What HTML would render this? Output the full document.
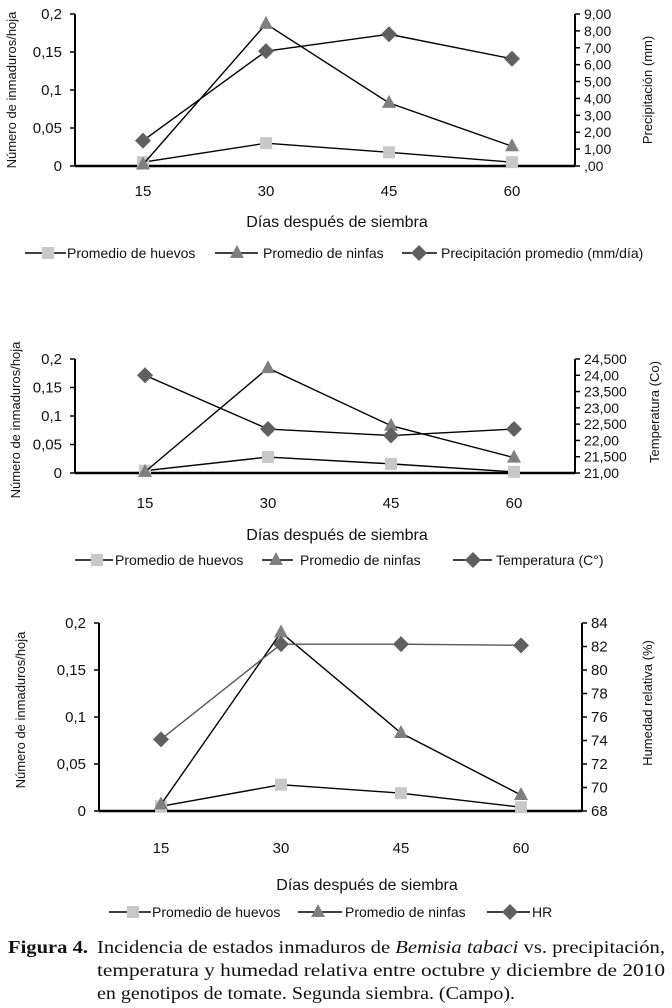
<!DOCTYPE html>
<html><head><meta charset="utf-8"><style>
html,body{margin:0;padding:0;background:#fff;}
svg{display:block;}
.t{font-family:"Liberation Sans Narrow","Liberation Sans",sans-serif;fill:#111;}
.c{font-family:"Liberation Serif",serif;fill:#111;font-size:18px;}
</style></head><body>
<svg id="fig" width="672" height="1008" viewBox="0 0 672 1008" xmlns="http://www.w3.org/2000/svg">
<text class="c" x="8" y="953" font-weight="bold" textLength="80" lengthAdjust="spacingAndGlyphs">Figura 4.</text>
<text class="c" x="97" y="953" textLength="568" lengthAdjust="spacingAndGlyphs">Incidencia de estados inmaduros de <tspan font-style="italic">Bemisia tabaci</tspan> vs. precipitación,</text>
<text class="c" x="97" y="976" textLength="568" lengthAdjust="spacingAndGlyphs">temperatura y humedad relativa entre octubre y diciembre de 2010</text>
<text class="c" x="97" y="999" textLength="418" lengthAdjust="spacingAndGlyphs">en genotipos de tomate. Segunda siembra. (Campo).</text>
</svg>
<script>
const categories = ["15","30","45","60"];
const leftTicks = ["0","0,05","0,1","0,15","0,2"];
const leftTickVals = [0,0.05,0.1,0.15,0.2];
// chart 1
const huevos1 = [0.005,0.030,0.018,0.005];
const ninfas1 = [0.002,0.187,0.083,0.026];
const precip1 = [1.5,6.8,7.8,6.35];
const rightTicks1 = [",00","1,00","2,00","3,00","4,00","5,00","6,00","7,00","8,00","9,00"];
const rightVals1 = [0,1,2,3,4,5,6,7,8,9];
// chart 2
const huevos2 = [0.004,0.028,0.016,0.002];
const ninfas2 = [0.002,0.184,0.083,0.027];
const temp2 = [24.0,22.35,22.15,22.35];
const rightTicks2 = ["21,00","21,500","22,00","22,500","23,00","23,500","24,00","24,500"];
const rightVals2 = [21,21.5,22,22.5,23,23.5,24,24.5];
// chart 3
const huevos3 = [0.005,0.028,0.019,0.004];
const ninfas3 = [0.007,0.190,0.083,0.017];
const hr3 = [74.1,82.2,82.2,82.1];
const rightTicks3 = ["68","70","72","74","76","78","80","82","84"];
const rightVals3 = [68,70,72,74,76,78,80,82,84];

const NS="http://www.w3.org/2000/svg";
const svg=document.getElementById('fig');
function mk(tag,attrs,parent){const e=document.createElementNS(NS,tag);for(const k in attrs)e.setAttribute(k,attrs[k]);(parent||svg).appendChild(e);return e;}
function txt(s,attrs,parent){const e=mk('text',attrs,parent);e.textContent=s;return e;}
function marker(kind,x,y,g){
  let e;
  if(kind==='sq') e=mk('rect',{x:x-6,y:y-6,width:12,height:12,fill:'#c8c8c8'},g);
  else if(kind==='tri') e=mk('polygon',{points:`${x},${y-8} ${x+7},${y+5} ${x-7},${y+5}`,fill:'#7f7f7f'},g);
  else e=mk('polygon',{points:`${x},${y-8} ${x+8},${y} ${x},${y+8} ${x-8},${y}`,fill:'#606060'},g);
  return e;
}
function chart(cfg){
  const g=mk('g',{});
  
  
  const yL=v=>cfg.y0+(cfg.y1-cfg.y0)*v/0.2;
  const yR=v=>cfg.y0+(cfg.y1-cfg.y0)*(v-cfg.rmin)/(cfg.rmax-cfg.rmin);
  const xs=i=>cfg.xs[0]+(cfg.xs[1]-cfg.xs[0])*i;
  const la=mk('line',{x1:cfg.lx,y1:cfg.y1,x2:cfg.lx,y2:cfg.y0,stroke:'#000','stroke-width':2},g);
  
  
  const ra=mk('line',{x1:cfg.rx,y1:cfg.y1,x2:cfg.rx,y2:cfg.y0,stroke:'#000','stroke-width':2},g);
  
  
  const xa=mk('line',{x1:cfg.lx,y1:cfg.y0,x2:cfg.rx,y2:cfg.y0,stroke:'#000','stroke-width':2.5},g);
  
  
  leftTickVals.forEach((v,i)=>{
    const y=yL(v);
    mk('line',{x1:cfg.lx-5,y1:y,x2:cfg.lx,y2:y,stroke:'#000','stroke-width':1.5},g);
    const t=txt(leftTicks[i],{class:'t',x:cfg.lx-13,y:y+5,'text-anchor':'end','font-size':15},g);
    
    
  });
  cfg.rvals.forEach((v,i)=>{
    const y=yR(v);
    mk('line',{x1:cfg.rx,y1:y,x2:cfg.rx+5,y2:y,stroke:'#000','stroke-width':1.5},g);
    const t=txt(cfg.rticks[i],{class:'t',x:cfg.rx+9,y:y+5,'font-size':cfg.rfs},g);
    
    
  });
  categories.forEach((c,i)=>{
    const t=txt(c,{class:'t',x:xs(i),y:cfg.xly,'text-anchor':'middle','font-size':15},g);
    
    
  });
  const xt=txt('Días después de siembra',{class:'t',x:cfg.xtx,y:cfg.xty,'text-anchor':'middle','font-size':16},g);
  
  
  const yt=txt('Número de inmaduros/hoja',{class:'t',transform:`translate(${cfg.ytx},${cfg.yty}) rotate(-90)`,'text-anchor':'middle','font-size':13},g);
  
  
  const yt2=txt(cfg.rtitle,{class:'t',transform:`translate(${cfg.rtx},${cfg.rty}) rotate(-90)`,'text-anchor':'middle','font-size':13},g);
  
  
  const series=[
    {d:cfg.h,f:yL,k:'sq',n:'series-huevos'},
    {d:cfg.n,f:yL,k:'tri',n:'series-ninfas'},
    {d:cfg.r,f:yR,k:'dia',n:'series-'+cfg.rname}
  ];
  series.forEach(s=>{
    const sg=mk('g',{},g);
    
    
    const pts=s.d.map((v,i)=>xs(i)+','+s.f(v)).join(' ');
    mk('polyline',{points:pts,fill:'none',stroke:(s.k==='dia'&&cfg.rgray)?'#555':'#000','stroke-width':1.4},sg);
    s.d.forEach((v,i)=>{
      const m=marker(s.k,xs(i),s.f(v),sg);
      
      
    });
  });
  const lg=mk('g',{},g);
  
  
  const kinds=['sq','tri','dia'];
  cfg.leg.forEach((L,i)=>{
    const eg=mk('g',{},lg);
    
    
    mk('line',{x1:L[0],y1:cfg.ly,x2:L[2],y2:cfg.ly,stroke:'#000','stroke-width':1.6},eg);
    marker(kinds[i],L[1],cfg.ly,eg);
    txt(L[4],{class:'t',x:L[3],y:cfg.ly+5,'font-size':14},eg);
  });
}
chart({name:'chart-precipitation',lx:75,rx:575,y0:166,y1:14,xs:[143,266],h:huevos1,n:ninfas1,r:precip1,rname:'precipitacion',
  rmin:0,rmax:9,rvals:rightVals1,rticks:rightTicks1,rfs:14,xly:196,xtx:337,xty:227,ytx:16,yty:90,rtitle:'Precipitación (mm)',rtx:652,rty:90,
  ly:253,leg:[[25,48,66,67,'Promedio de huevos'],[215,237,258,263,'Promedio de ninfas'],[402,419,437,441,'Precipitación promedio (mm/día)']]});
chart({name:'chart-temperature',lx:75,rx:575,y0:473,y1:359,xs:[145,268],h:huevos2,n:ninfas2,r:temp2,rname:'temperatura',
  rmin:21,rmax:24.5,rvals:rightVals2,rticks:rightTicks2,rfs:14,xly:508,xtx:337,xty:540,ytx:20,yty:420,rtitle:'Temperatura (Co)',rtx:659,rty:412,
  ly:560,leg:[[75,97,113,115,'Promedio de huevos'],[262,276,293,300,'Promedio de ninfas'],[453,473,492,496,'Temperatura (C°)']]});
chart({name:'chart-humidity',lx:99,rx:582,y0:811,y1:623,xs:[161,281],h:huevos3,n:ninfas3,r:hr3,rname:'hr',rgray:true,
  rmin:68,rmax:84,rvals:rightVals3,rticks:rightTicks3,rfs:15,xly:853,xtx:367,xty:890,ytx:25,yty:710,rtitle:'Humedad relativa (%)',rtx:652,rty:703,
  ly:912,leg:[[109,133,151,152,'Promedio de huevos'],[298,318,342,345,'Promedio de ninfas'],[487,510,530,532,'HR']]});
</script>
</body></html>
